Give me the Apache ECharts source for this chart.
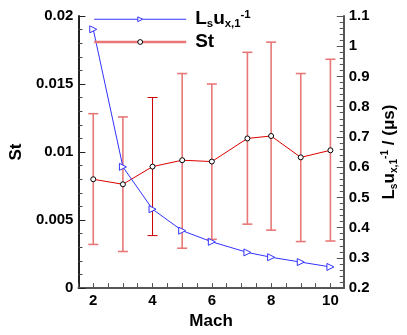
<!DOCTYPE html>
<html>
<head>
<meta charset="utf-8">
<script src="https://cdn.jsdelivr.net/npm/echarts@6/dist/echarts.min.js"></script>
<style>
  html, body { margin: 0; padding: 0; background: #fff; }
  #chart { width: 407px; height: 335px; }
</style>
</head>
<body>
<div id="chart"></div>
<script>
// Mach numbers of the samples
const mach = [2, 3, 4, 5, 6, 7.2, 8, 9, 10];
// Strouhal number (left axis) and its spread
const st = [0.0080, 0.00763, 0.00893, 0.0094, 0.0093, 0.0110, 0.01118, 0.00961, 0.01013];
const stLow = [0.00321, 0.00269, 0.00386, 0.00293, 0.00358, 0.0047, 0.00426, 0.00342, 0.00346];
const stHigh = [0.01282, 0.01258, 0.01401, 0.01577, 0.0150, 0.01733, 0.01808, 0.01577, 0.01682];
// L_s u_x,1^-1 (right axis, 1/us)
const lsu = [1.056, 0.601, 0.461, 0.390, 0.353, 0.318, 0.302, 0.286, 0.270];

const FONT = '"Liberation Sans", Arial, sans-serif';
const chart = echarts.init(document.getElementById('chart'));

// rich text pieces for L_s u_{x,1}^{-1}
const richLbl = function (size) {
  return {
    b: { fontSize: size, fontWeight: 'bold', fontFamily: FONT, color: '#000' },
    sub: { fontSize: size * 0.6, fontWeight: 'bold', fontFamily: FONT, color: '#000', verticalAlign: 'bottom', padding: [size * 0.45, 0, 0, 0] },
    sup: { fontSize: size * 0.6, fontWeight: 'bold', fontFamily: FONT, color: '#000', verticalAlign: 'top', padding: [0, 0, size * 0.5, 0] }
  };
};

const errData = mach.map((m, i) => [m, stLow[i], stHigh[i]]);
// bars that render as a thin dark line in the original
const darkBar = [false, false, true, false, false, false, false, false, false];

const option = {
  animation: false,
  backgroundColor: '#fff',
  grid: { left: 58, right: 59, top: 16, bottom: 34 },
  legend: {
    orient: 'vertical',
    left: 88,
    top: 4,
    itemWidth: 92,
    itemHeight: 6,
    itemGap: 3,
    data: [
      { name: 'lsu', lineStyle: { color: '#3333ff', width: 1 }, itemStyle: { color: '#fff', borderColor: '#3333ff', borderWidth: 1 } },
      { name: 'St', lineStyle: { color: '#e87878', width: 2.4 }, itemStyle: { color: '#fff', borderColor: '#000', borderWidth: 1 } }
    ],
    formatter: function (name) {
      if (name === 'lsu') return '{b|L}{sub|s}{b|u}{sub|x,1}{sup|-1}';
      return '{b|St}';
    },
    textStyle: { padding: [0, 0, 0, 4], rich: richLbl(19) }
  },
  xAxis: {
    type: 'value',
    min: 1.5,
    max: 10.45,
    interval: 0.5,
    name: 'Mach',
    nameLocation: 'middle',
    nameGap: 18,
    nameTextStyle: { fontFamily: FONT, fontWeight: 'bold', fontSize: 17, color: '#000' },
    axisLine: { lineStyle: { color: '#555', width: 2 } },
    axisTick: { inside: true, length: 5, lineStyle: { color: '#555' } },
    splitLine: { show: false },
    axisLabel: {
      margin: 5,
      fontFamily: FONT, fontWeight: 'bold', fontSize: 15, color: '#000',
      formatter: v => (v % 2 === 0 ? String(v) : '')
    }
  },
  yAxis: [
    {
      type: 'value',
      min: 0,
      max: 0.02,
      interval: 0.005,
      name: 'St',
      nameLocation: 'middle',
      nameRotate: 90,
      nameGap: 47,
      nameTextStyle: { fontFamily: FONT, fontWeight: 'bold', fontSize: 17, color: '#000' },
      axisLine: { show: true, lineStyle: { color: '#222', width: 2 } },
      axisTick: { inside: true, length: 7, lineStyle: { color: '#222' } },
      minorTick: { show: true, splitNumber: 5, length: 4, lineStyle: { color: '#444' } },
      splitLine: { show: false },
      axisLabel: { margin: 5, fontFamily: FONT, fontWeight: 'bold', fontSize: 15, color: '#000' }
    },
    {
      type: 'value',
      min: 0.2,
      max: 1.1,
      interval: 0.1,
      position: 'right',
      name: '{b|L}{sub|s}{b|u}{sub|x,1}{sup|-1}{b| / (μs)}',
      nameLocation: 'middle',
      nameRotate: 90,
      nameGap: 33,
      nameTextStyle: { rich: richLbl(17) },
      axisLine: { show: true, lineStyle: { color: '#555', width: 2 } },
      axisTick: { inside: true, length: 7, lineStyle: { color: '#555' } },
      minorTick: { show: true, splitNumber: 5, length: 4, lineStyle: { color: '#555' } },
      splitLine: { show: false },
      axisLabel: { margin: 5, fontFamily: FONT, fontWeight: 'bold', fontSize: 15, color: '#000' }
    }
  ],
  series: [
    {
      name: 'St err',
      type: 'custom',
      yAxisIndex: 0,
      z: 1,
      data: errData,
      renderItem: function (params, api) {
        const i = params.dataIndex;
        const lo = api.coord([api.value(0), api.value(1)]);
        const hi = api.coord([api.value(0), api.value(2)]);
        const w = 5;
        const style = darkBar[i]
          ? { stroke: '#cc0000', lineWidth: 1 }
          : { stroke: '#e87878', lineWidth: 1.6 };
        return {
          type: 'group',
          children: [
            { type: 'line', shape: { x1: lo[0], y1: lo[1], x2: hi[0], y2: hi[1] }, style: style },
            { type: 'line', shape: { x1: lo[0] - w, y1: lo[1], x2: lo[0] + w, y2: lo[1] }, style: style },
            { type: 'line', shape: { x1: hi[0] - w, y1: hi[1], x2: hi[0] + w, y2: hi[1] }, style: style }
          ]
        };
      }
    },
    {
      name: 'St',
      type: 'line',
      yAxisIndex: 0,
      z: 3,
      data: mach.map((m, i) => [m, st[i]]),
      symbol: 'circle',
      symbolSize: 5,
      itemStyle: { color: '#fff', borderColor: '#000', borderWidth: 1 },
      lineStyle: { color: '#dd0000', width: 1 }
    },
    {
      name: 'lsu',
      type: 'line',
      yAxisIndex: 1,
      z: 3,
      data: mach.map((m, i) => [m, lsu[i]]),
      symbol: 'triangle',
      symbolRotate: -90,
      symbolSize: 7,
      itemStyle: { color: '#fff', borderColor: '#3333ff', borderWidth: 1 },
      lineStyle: { color: '#3333ff', width: 1 }
    }
  ]
};

chart.setOption(option);
</script>
</body>
</html>
